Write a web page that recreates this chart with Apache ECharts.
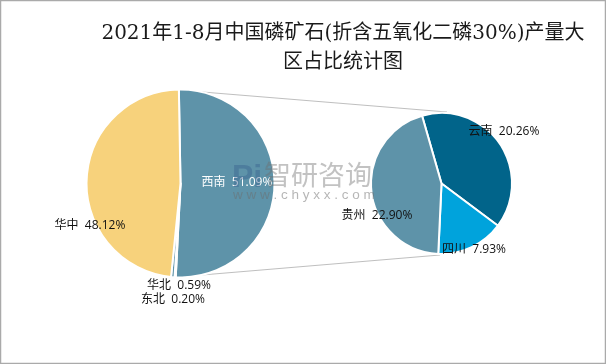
<!DOCTYPE html>
<html><head><meta charset="utf-8">
<style>html,body{margin:0;padding:0;background:#fff}#c{width:606px;height:364px}</style>
<script src="https://cdn.jsdelivr.net/npm/echarts@6/dist/echarts.min.js"></script>
</head><body><div id="c"></div>
<script>
const titleText = '2021年1-8月中国磷矿石(折含五氧化二磷30%)产量大\n区占比统计图';
const mainNames = ['西南','东北','华北','华中'];
const mainValues = [51.09,0.20,0.59,48.12];
const mainColors = ['#5E93A9','#A9C6D3','#5E93A9','#F7D27C'];
const subNames = ['云南','四川','贵州'];
const subValues = [20.26,7.93,22.90];
const subColors = ['#01648A','#00A3DC','#5E93A9'];
const fmt = v => v.toFixed(2)+'%';
const mainCenter=[180.5,183.5], mainR=94, subCenter=[441.5,183.5], subR=70.5;
const mainLabelXY={'西南':[237,183,'#fff'],'东北':[173,300,'#111'],'华北':[179,286,'#111'],'华中':[90,226,'#111']};
const subLabelXY={'云南':[504,132,'#111'],'四川':[474,250,'#111'],'贵州':[377,216,'#111']};
const font='"Open Sans","Noto Sans CJK SC",sans-serif';
function series(names,vals,colors,center,r,start,xy){
  return {type:'pie',center,radius:[0,r],startAngle:start,clockwise:true,silent:true,animation:false,z:3,
    data:names.map((n,i)=>({name:n,value:vals[i],itemStyle:{color:colors[i]},
      label:{color:xy[n][2]}})),
    itemStyle:{borderColor:'#fff',borderWidth:2},
    label:{show:true,position:'inside',fontSize:12,fontFamily:font,formatter:p=>p.name+'  '+fmt(p.value)},
    labelLine:{show:false},
    labelLayout:p=>{const q=xy[names[p.dataIndex]];return {x:q[0],y:q[1],align:'center',verticalAlign:'middle'};}
  };
}
const chart=echarts.init(document.getElementById('c'),null,{renderer:'canvas'});
chart.setOption({
  backgroundColor:'#fff',animation:false,
  title:{text:titleText,left:338,top:14,textAlign:'center',
    textStyle:{fontSize:20,fontWeight:'normal',color:'#1a1a1a',lineHeight:29,fontFamily:'"DejaVu Serif","Noto Sans CJK SC",serif'}},
  series:[series(mainNames,mainValues,mainColors,mainCenter,mainR,91,mainLabelXY),
          series(subNames,subValues,subColors,subCenter,subR,106,subLabelXY)],
  graphic:[
    {type:'rect',z:100,shape:{x:0.5,y:0.5,width:605,height:363},style:{fill:'none',stroke:'#aaa',lineWidth:1.5}},
    {type:'line',z:1,shape:{x1:178,y1:90,x2:447,y2:112},style:{stroke:'#bfbfbf',lineWidth:1}},
    {type:'line',z:1,shape:{x1:178,y1:277,x2:440,y2:255},style:{stroke:'#bfbfbf',lineWidth:1}},
    {type:'text',z:50,left:232,top:162,style:{text:'Pi',fontSize:32,fontWeight:'bold',fontFamily:'"Liberation Sans"',fill:'rgba(50,90,140,0.38)'}},
    {type:'text',z:50,left:264,top:161,style:{text:'智研咨询',fontSize:27,fontFamily:'"Noto Sans CJK SC"',fill:'rgba(110,110,110,0.42)'}},
    {type:'text',z:50,left:233,top:188,style:{text:'w w w . c h y x x . c o m',fontSize:13.5,fontFamily:'"Liberation Sans"',fill:'rgba(110,110,110,0.5)'}}
  ]
});
</script></body></html>
